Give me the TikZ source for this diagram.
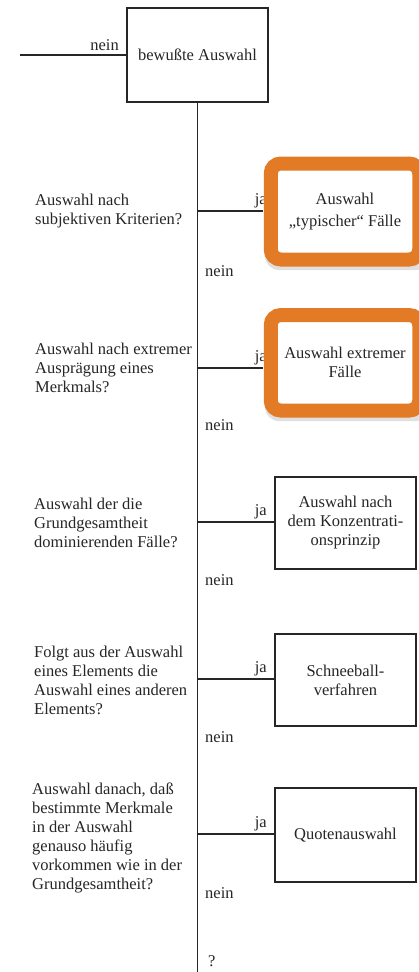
\documentclass[tikz,border=0pt]{standalone}
\usepackage{fontspec}
\setmainfont{Liberation Serif}
\begin{document}
\begin{tikzpicture}[x=1pt,y=-1pt,
  every node/.style={font=\fontsize{16.5}{19}\selectfont, text=black!85},
  ln/.style={line width=1.1pt, draw=black!85},
  outbox/.style={draw=black!85, line width=1.2pt, minimum width=141pt, align=center, inner sep=2pt},
  obox/.style={draw=orangeA, line width=14pt, rounded corners=10pt, fill=white, minimum width=148.5pt, align=center, inner sep=2pt},
  question/.style={anchor=west, align=left, inner sep=0pt},
  lbl/.style={inner sep=1pt}]
\definecolor{orangeA}{HTML}{E27A26}
\useasboundingbox (0,0) rectangle (418,972);
\fill[white] (0,0) rectangle (418,972);

% top box
\node[outbox, minimum height=94pt] (top) at (197.5,55) {bewußte Auswahl};
\coordinate (inleft) at (20,55);
\draw[ln] (inleft) -- (top.west);
\node[lbl, anchor=south east] (nein0) at (120,52) {nein};

% trunk
\coordinate (bottom) at (197.5,972);
\draw[ln] (top.south) -- (bottom);

% branch points
\coordinate (j1) at (197.5,211);
\coordinate (j2) at (197.5,368);
\coordinate (j3) at (197.5,522);
\coordinate (j4) at (197.5,679);
\coordinate (j5) at (197.5,834);

% black boxes
\node[outbox, minimum height=92pt] (b3) at (345.5,523) {Auswahl nach\\dem Konzentrati-\\onsprinzip};
\node[outbox, minimum height=92pt] (b4) at (345.5,680) {Schneeball-\\verfahren};
\node[outbox, minimum height=94pt] (b5) at (345.5,835) {Quotenauswahl};

% branch lines
\draw[ln] (j1) -- (263,211) coordinate (e1);
\draw[ln] (j2) -- (263,368) coordinate (e2);
\draw[ln] (j3) -- (j3 -| b3.west);
\draw[ln] (j4) -- (j4 -| b4.west);
\draw[ln] (j5) -- (j5 -| b5.west);

% ja labels
\node[lbl, anchor=south east] (ja1) at (268,209) {ja};
\node[lbl, anchor=south east] (ja2) at (268,366) {ja};
\node[lbl, anchor=south east] (ja3) at (268,520) {ja};
\node[lbl, anchor=south east] (ja4) at (268,677) {ja};
\node[lbl, anchor=south east] (ja5) at (268,832) {ja};

% nein labels
\node[lbl, anchor=west] (n1) at (204,271) {nein};
\node[lbl, anchor=west] (n2) at (204,425) {nein};
\node[lbl, anchor=west] (n3) at (204,580) {nein};
\node[lbl, anchor=west] (n4) at (204,737) {nein};
\node[lbl, anchor=west] (n5) at (204,893) {nein};
\node[lbl, anchor=west] (q) at (207,961) {?};

% questions
\node[question] (q1) at (35,211) {Auswahl nach\\subjektiven Kriterien?};
\node[question] (q2) at (35,368) {Auswahl nach extremer\\Ausprägung eines\\Merkmals?};
\node[question] (q3) at (34,523) {Auswahl der die\\Grundgesamtheit\\dominierenden Fälle?};
\node[question] (q4) at (34,680) {Folgt aus der Auswahl\\eines Elements die\\Auswahl eines anderen\\Elements?};
\node[question] (q5) at (32,838) {Auswahl danach, daß\\bestimmte Merkmale\\in der Auswahl\\genauso häufig\\vorkommen wie in der\\Grundgesamtheit?};

% orange highlighted boxes (with faint shadow)
\fill[black, opacity=0.12, rounded corners=14pt] (265,160) rectangle (430,270);
\node[obox, minimum height=96pt] (b1) at (345,211.5) {Auswahl\\[3pt]„typischer“ Fälle};
\fill[black, opacity=0.12, rounded corners=14pt] (265,310) rectangle (430,421);
\node[obox, minimum height=95.5pt] (b2) at (345,362.8) {Auswahl extremer\\Fälle};
\end{tikzpicture}
\end{document}
